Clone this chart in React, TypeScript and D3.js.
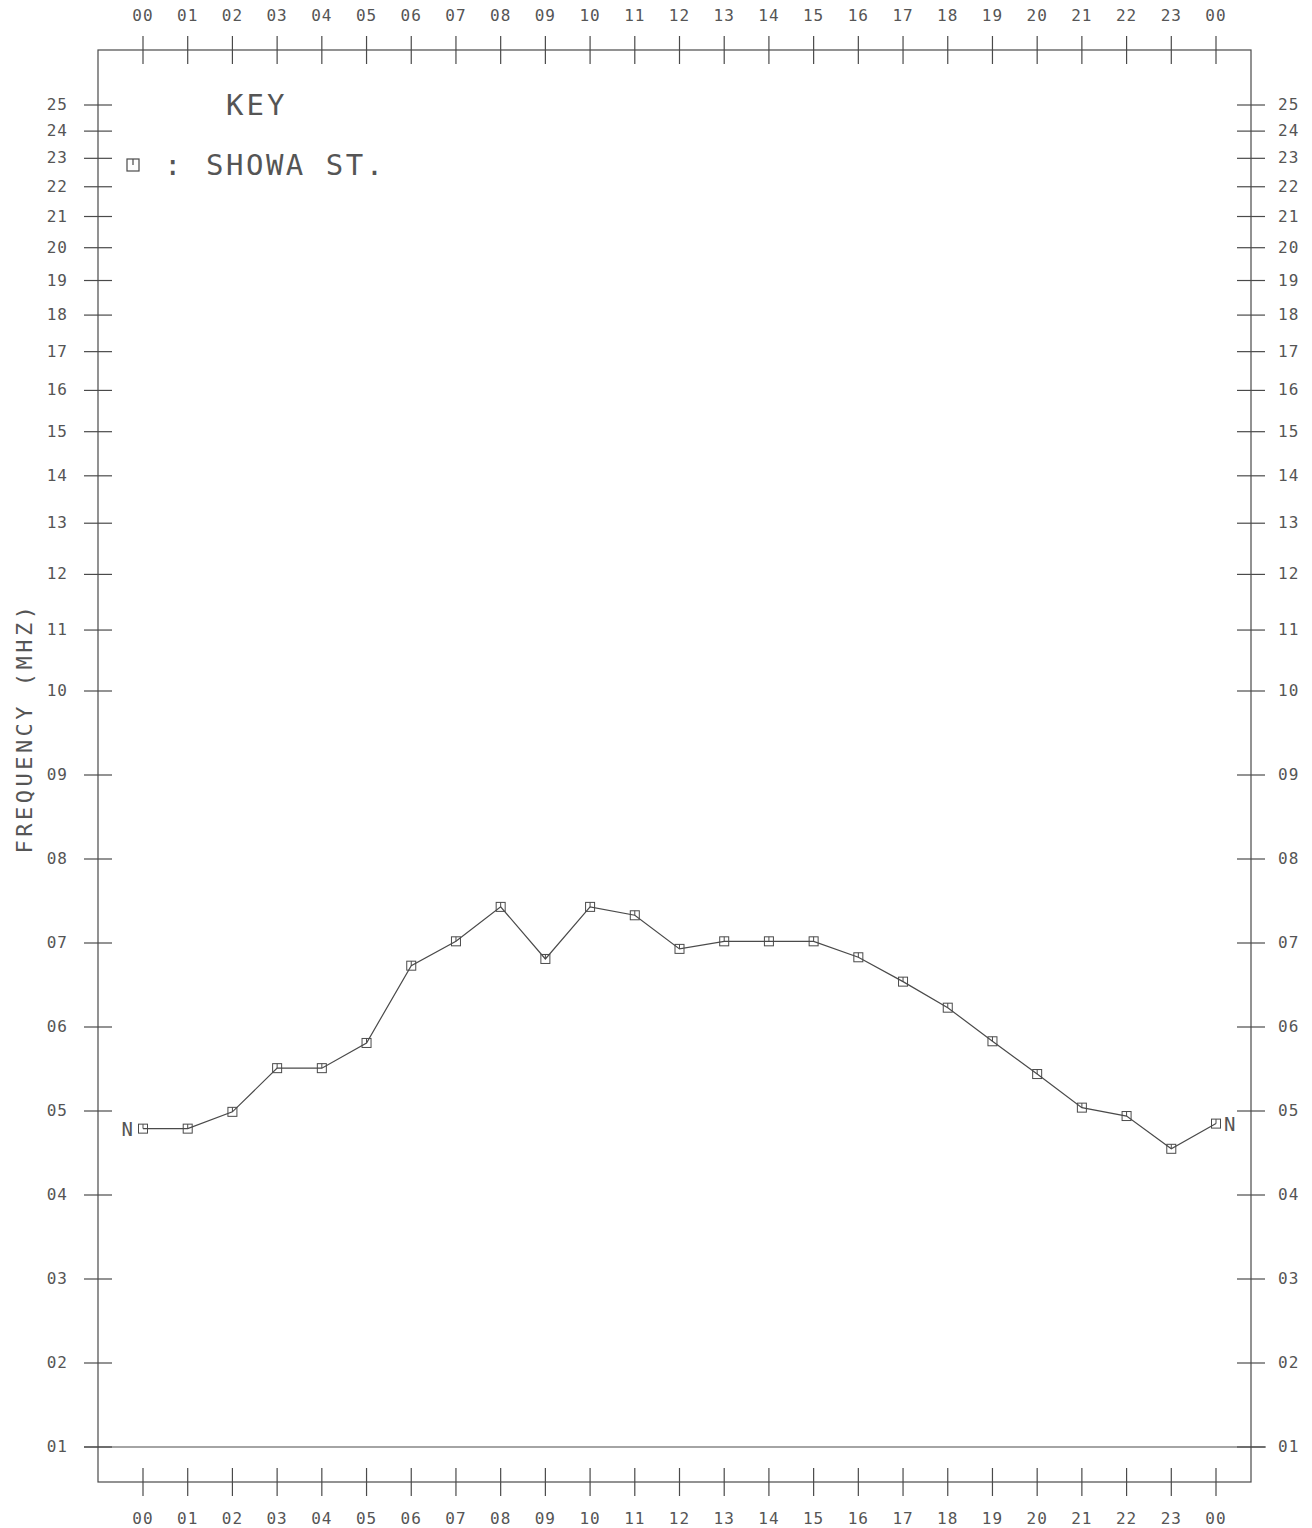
import React from "react";
import * as d3 from "d3";

const width = 1312;
const height = 1528;

// hours along the x axis (0..24), labels wrap back to 00
const hours = d3.range(0, 25);
const hourLabels = [
  "00", "01", "02", "03", "04", "05", "06", "07", "08", "09", "10", "11",
  "12", "13", "14", "15", "16", "17", "18", "19", "20", "21", "22", "23", "00",
];

// frequency ticks (MHz)
const freqTicks = d3.range(1, 26);
const freqLabels = freqTicks.map(d => (d < 10 ? "0" + d : "" + d));

// SHOWA ST. hourly frequency (MHz)
const showa = [
  4.79, 4.79, 4.99, 5.51, 5.51, 5.81, 6.73, 7.02, 7.43, 6.81, 7.43, 7.33,
  6.93, 7.02, 7.02, 7.02, 6.83, 6.54, 6.23, 5.83, 5.44, 5.04, 4.94, 4.55, 4.85,
];

const frame = { left: 98, right: 1251, top: 50, bottom: 1482 };
const ink = "#4a4a4a";
const textInk = "#555";
const font = "'DejaVu Sans Mono', monospace";

const x = d3.scaleLinear().domain([0, 24]).range([143, 1216]);
// linear part below 10 MHz, logarithmic above
const yLin = d3.scaleLinear().domain([1, 10]).range([1447, 691]);
const yLog = d3.scaleLog().domain([10, 25]).range([691, 105]);
const y = (v: number) => (v <= 10 ? yLin(v) : yLog(v));

export default function App() {
  const line = d3
    .line<number>()
    .x((_, i) => x(hours[i]))
    .y(d => y(d));

  const tick = 14;

  return (
    <svg
      width={width}
      height={height}
      style={{ position: "absolute", left: 0, top: 0, background: "#fff" }}
      fontFamily={font}
    >
      <g stroke={ink} strokeWidth={1.2} fill="none">
        <rect
          x={frame.left}
          y={frame.top}
          width={frame.right - frame.left}
          height={frame.bottom - frame.top}
        />
        {/* 01 MHz reference line */}
        <line x1={84} x2={1266} y1={y(1)} y2={y(1)} />
        {hours.map(h => (
          <g key={"xt" + h}>
            <line x1={x(h)} x2={x(h)} y1={frame.top - tick} y2={frame.top + tick} />
            <line x1={x(h)} x2={x(h)} y1={frame.bottom - tick} y2={frame.bottom + tick} />
          </g>
        ))}
        {freqTicks.map(f => (
          <g key={"yt" + f}>
            <line x1={frame.left - tick} x2={frame.left + tick} y1={y(f)} y2={y(f)} />
            <line x1={frame.right - tick} x2={frame.right + tick} y1={y(f)} y2={y(f)} />
          </g>
        ))}
      </g>

      <g fill={textInk} fontSize={16} letterSpacing={1}>
        {hours.map(h => (
          <g key={"xl" + h}>
            <text x={x(h)} y={21} textAnchor="middle">{hourLabels[h]}</text>
            <text x={x(h)} y={1524} textAnchor="middle">{hourLabels[h]}</text>
          </g>
        ))}
        {freqTicks.map((f, i) => (
          <g key={"yl" + f}>
            <text x={68} y={y(f) + 5} textAnchor="end">{freqLabels[i]}</text>
            <text x={1278} y={y(f) + 5}>{freqLabels[i]}</text>
          </g>
        ))}
      </g>

      <text
        transform={`translate(32,728) rotate(-90)`}
        textAnchor="middle"
        fill={textInk}
        fontSize={22}
        letterSpacing={3.5}
      >
        FREQUENCY (MHZ)
      </text>

      {/* key */}
      <text x={226} y={115} fill={textInk} fontSize={29} letterSpacing={3}>KEY</text>
      <g stroke={ink} strokeWidth={1.2} fill="none">
        <rect x={127} y={159} width={12} height={12} />
        <line x1={133} x2={133} y1={159} y2={165} />
      </g>
      <text x={164} y={175} fill={textInk} fontSize={29}>:</text>
      <text x={206} y={175} fill={textInk} fontSize={29} letterSpacing={2.5}>SHOWA ST.</text>

      {/* series */}
      <path d={line(showa) ?? ""} stroke={ink} strokeWidth={1.2} fill="none" />
      <g stroke={ink} strokeWidth={1} fill="none">
        {showa.map((v, i) => (
          <g key={"m" + i}>
            <rect x={x(hours[i]) - 4.5} y={y(v) - 4.5} width={9} height={9} />
            <line x1={x(hours[i])} x2={x(hours[i])} y1={y(v) - 4.5} y2={y(v)} />
          </g>
        ))}
      </g>
      <text x={x(0) - 10} y={y(showa[0]) + 7} textAnchor="end" fill={textInk} fontSize={19}>N</text>
      <text x={x(24) + 8} y={y(showa[24]) + 7} fill={textInk} fontSize={19}>N</text>
    </svg>
  );
}
